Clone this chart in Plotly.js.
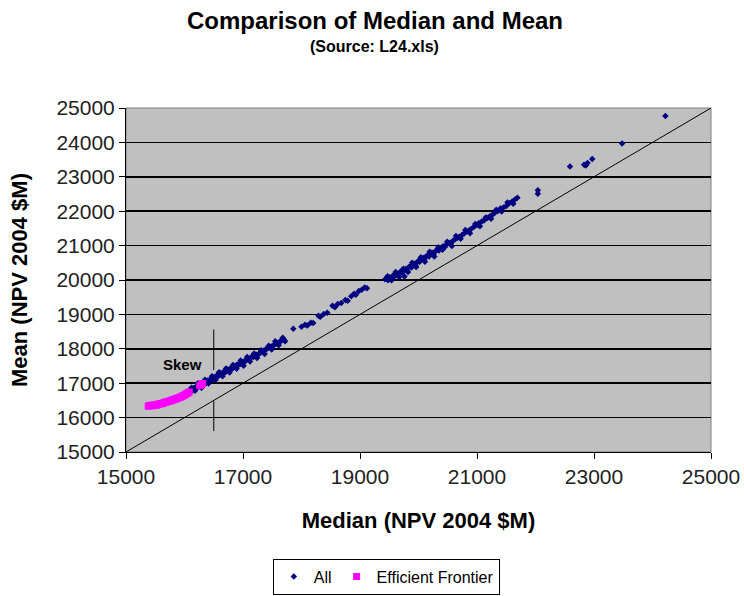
<!DOCTYPE html>
<html>
<head>
<meta charset="utf-8">
<script src="https://cdn.plot.ly/plotly-3.0.1.min.js"></script>
<style>html,body{margin:0;padding:0;background:#fff}#chart{width:744px;height:596px}</style>
</head>
<body>
<div id="chart"></div>
<script>
// All portfolios: median vs mean (NPV 2004 $M)
var allMedian = [
16060,16080,16100,16110,16130,16150,16170,16190,16200,16220,16240,16260,16280,16300,16320,16340,16360,16380,16400,16420,
16440,16460,16480,16500,16520,16540,16560,16580,16600,16620,16640,16660,16680,16700,16720,16740,16760,16780,16800,16820,
16850,16880,16900,16920,16950,16980,17000,17020,17050,17080,17100,17130,17150,17180,17200,17230,17250,17280,17300,17330,
17350,17380,17400,17430,17460,17500,17530,17560,17600,17630,17660,17700,
16120,16180,16230,16290,16350,16410,16470,16530,16590,16650,16710,16770,16830,16890,16960,17010,17070,17120,17190,17240,
17310,17370,17440,17490,17550,17610,17680,17720,
17860,18000,18060,18100,18160,18200,18290,18320,18380,18440,18530,18570,18620,18680,18750,18790,18850,18900,18930,18980,19030,19080,19120,
19430,19460,19480,19500,19530,19560,19580,19600,19630,19650,19680,19700,19720,19760,19750,19780,19800,19830,19860,19880,
19900,19930,19950,19980,20000,20020,20050,20080,20100,20130,20160,20180,20200,20230,20260,20290,20320,20350,20380,20420,
20450,20480,20520,20550,20580,20620,20660,20700,20740,20780,20820,20860,20900,20950,21000,21030,21080,21120,21180,21220,
21260,21300,21350,21400,21450,21500,21550,21600,21650,21690,
19470,19540,19610,19670,19740,19820,19890,19960,20040,20110,20190,20270,20340,20410,20490,20570,20640,20720,20800,20880,
20970,21050,21150,21240,21330,21420,21520,21620,
22040,22040,22590,22830,22860,22890,22970,23480,24220
];
var allMean = [
16730,16780,16760,16810,16790,16850,16830,16880,16860,16920,16900,16950,16930,16990,17010,17040,16990,17060,17080,17050,
17110,17130,17100,17170,17150,17200,17230,17210,17260,17300,17250,17310,17340,17320,17370,17400,17360,17420,17450,17430,
17480,17500,17540,17520,17560,17600,17580,17640,17650,17700,17680,17740,17770,17760,17800,17830,17810,17870,17890,17910,
17940,17960,18000,18020,18050,18080,18110,18150,18170,18210,18240,18270,
16870,16780,17000,16870,17100,16990,17200,17090,17320,17200,17430,17310,17530,17420,17660,17510,17760,17630,17860,17730,
17960,17850,18090,17980,18220,18100,18320,18220,
18580,18640,18700,18680,18760,18750,18960,18930,19010,19050,19250,19210,19300,19330,19420,19400,19530,19600,19570,19680,19720,19780,19760,
20020,20060,19990,20080,20040,20120,20090,20150,20180,20140,20220,20250,20200,20100,20290,20320,20280,20370,20400,20360,
20440,20470,20430,20520,20560,20530,20610,20640,20600,20690,20720,20680,20760,20790,20750,20840,20880,20860,20930,20980,
20960,21030,21080,21060,21130,21180,21220,21260,21300,21350,21400,21440,21480,21550,21600,21650,21700,21730,21800,21850,
21890,21950,22000,22080,22110,22150,22230,22280,22340,22390,
20110,19990,20230,20090,20330,20230,20500,20380,20660,20530,20820,20680,20950,20880,21110,20990,21280,21200,21450,21360,
21630,21560,21820,21780,22040,21990,22250,22220,
22610,22510,23300,23350,23330,23400,23520,23970,24770
];
// Efficient frontier portfolios
var efMedian = [
15380,15400,15420,15440,15460,15480,15500,15520,15540,15560,15580,15600,15620,15640,15660,15680,15700,15720,15740,15760,
15780,15800,15820,15840,15860,15880,15900,15920,15940,15960,15980,16000,16020,16040,16060,16080,16260,16290,16310
];
var efMean = [
16330,16350,16340,16360,16345,16365,16370,16360,16385,16390,16400,16410,16405,16425,16440,16445,16460,16470,16480,16490,
16505,16515,16525,16540,16550,16565,16575,16590,16600,16620,16640,16655,16675,16700,16720,16745,16930,16960,16990
];
var axisRange = [15000, 25000];
var xTicks = [15000,17000,19000,21000,23000,25000];
var yTicks = [15000,16000,17000,18000,19000,20000,21000,22000,23000,24000,25000];
var skewX = 16500;
var skewUpper = [17380, 18560];
var skewLower = [15610, 16490];

var traces = [
  {x: axisRange, y: axisRange, mode: 'lines', line: {color: '#000', width: 1}, showlegend: false, hoverinfo: 'skip'},
  {x: allMedian, y: allMean, mode: 'markers', name: 'All',
   marker: {symbol: 'diamond', size: 5, color: '#000080'}},
  {x: efMedian, y: efMean, mode: 'markers', name: 'Efficient Frontier',
   marker: {symbol: 'square', size: 7, color: '#ff00ff'}}
];

var F = 'Arial, "Liberation Sans", sans-serif';
var layout = {
  width: 744, height: 596,
  margin: {l: 126, r: 33, t: 108, b: 144, autoexpand: false},
  paper_bgcolor: '#fff', plot_bgcolor: '#c0c0c0',
  font: {family: F, color: '#000'},
  title: {text: '<b>Comparison of Median and Mean</b>', x: 0.504, xref: 'container', y: 0.966, yanchor: 'middle',
          font: {family: F, size: 24, color: '#000'}},
  xaxis: {range: axisRange, tickvals: xTicks, ticktext: xTicks.map(String), showgrid: false, zeroline: false,
          showline: true, linecolor: '#000', linewidth: 1, ticks: 'outside', ticklen: 6, tickcolor: '#000',
          tickfont: {family: F, size: 21, color: '#222'},
          title: {text: '<b>Median (NPV 2004 $M)</b>', font: {family: F, size: 22, color: '#000'}, standoff: 25},
          automargin: false},
  yaxis: {range: axisRange, tickvals: yTicks, ticktext: yTicks.map(String), showgrid: true, gridcolor: '#000', gridwidth: 1.5,
          zeroline: false, showline: true, linecolor: '#000', linewidth: 1, ticks: 'outside', ticklen: 6, tickcolor: '#000',
          tickfont: {family: F, size: 21, color: '#222'},
          title: {text: '<b>Mean (NPV 2004 $M)</b>', font: {family: F, size: 22, color: '#000'}, standoff: 22},
          automargin: false},
  showlegend: true,
  legend: {orientation: 'h', x: 0.445, xanchor: 'center', y: -0.31, yanchor: 'top',
           bordercolor: '#000', borderwidth: 1, bgcolor: '#fff',
           font: {family: F, size: 16, color: '#000'}, itemwidth: 30, tracegroupgap: 0},
  shapes: [
    {type: 'rect', xref: 'paper', yref: 'paper', x0: 0, x1: 1, y0: 0, y1: 1, line: {color: '#808080', width: 1}, layer: 'below'},
    {type: 'line', xref: 'x', yref: 'y', x0: skewX, x1: skewX, y0: skewUpper[0], y1: skewUpper[1], line: {color: '#000', width: 1}},
    {type: 'line', xref: 'x', yref: 'y', x0: skewX, x1: skewX, y0: skewLower[0], y1: skewLower[1], line: {color: '#000', width: 1}}
  ],
  annotations: [
    {text: '<b>(Source: L24.xls)</b>', xref: 'paper', yref: 'paper', x: 0.424, y: 1.18, yanchor: 'middle', showarrow: false,
     font: {family: F, size: 16, color: '#000'}},
    {text: '<b>Skew</b>', xref: 'x', yref: 'y', x: 15970, y: 17550, showarrow: false,
     font: {family: F, size: 15, color: '#000'}}
  ]
};
Plotly.newPlot('chart', traces, layout, {displayModeBar: false, staticPlot: true});
</script>
</body>
</html>
